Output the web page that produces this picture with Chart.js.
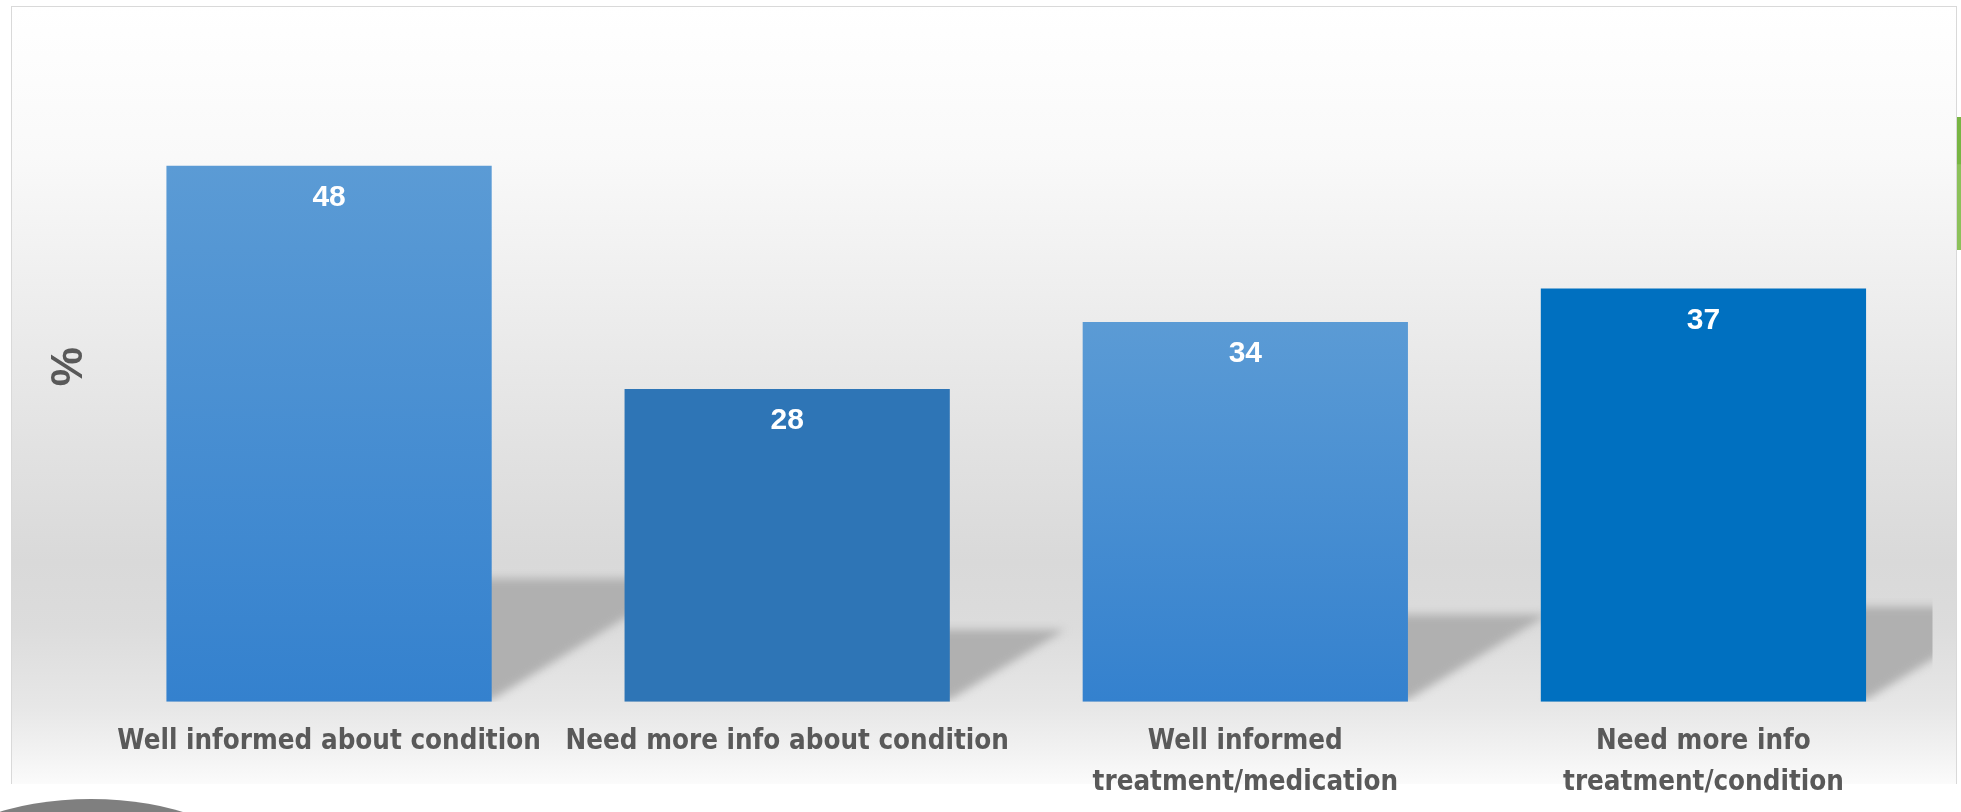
<!DOCTYPE html>
<html>
<head>
<meta charset="utf-8">
<script src="https://cdn.jsdelivr.net/npm/chart.js@4.4.1/dist/chart.umd.min.js"></script>
<style>
  html, body { margin:0; padding:0; background:#ffffff; overflow:hidden; }
  #wrap { position:relative; width:1961px; height:812px; }
  #frame { position:absolute; left:11px; top:6px; width:1944px; height:777px;
    border-left:1.5px solid #d9d9d9; border-top:1.5px solid #d9d9d9; border-right:1.5px solid #d9d9d9;
    background: linear-gradient(to bottom, #ffffff 0px, #f9f9f9 150px, #ededed 300px, #e1e1e1 450px, #d9d9d9 555px, #dcdcdc 620px, #e7e7e7 700px, #f2f2f2 745px, #fbfbfb 777px); }
  #blob { position:absolute; left:-59px; top:799px; width:300px; height:124px; border-radius:50%; background:#7f7f7f; }
  #green { position:absolute; left:1957px; top:117px; width:6px; height:133px; background:linear-gradient(to bottom,#78b543 0,#78b543 35%,#8cc15a 36%,#8cc15a 100%); }
  #cv { position:absolute; left:0; top:0; }
</style>
</head>
<body>
<div id="wrap">
  <div id="frame"></div>
  <div id="blob"></div>
  <div id="green"></div>
  <canvas id="cv" width="1961" height="812"></canvas>
</div>
<script>
// ---- data ----
const categories = [
  'Well informed about condition',
  'Need more info about condition',
  ['Well informed', 'treatment/medication'],
  ['Need more info', 'treatment/condition']
];
const values = [48, 28, 34, 37];
const axisTitle = '%';
const yMin = 0;
const yMax = 60;

// ---- styles ----
const topColors = ['#5b9bd5', '#2e75b6', '#5b9bd5', '#0070c0'];
const bottomColors = ['#3481ce', '#2e75b6', '#3481ce', '#0070c0'];

function fontAvailable(name) {
  const c = document.createElement('canvas').getContext('2d');
  const s = 'Well informed about condition mmmWWW';
  c.font = '40px monospace';
  const w1 = c.measureText(s).width;
  c.font = '40px "' + name + '", monospace';
  const w2 = c.measureText(s).width;
  return Math.abs(w1 - w2) > 0.5;
}
let labelFamily, labelSize;
if (fontAvailable('Liberation Sans Narrow')) {
  labelFamily = '"Liberation Sans Narrow", sans-serif'; labelSize = 32;
} else if (fontAvailable('DejaVu Sans Condensed')) {
  labelFamily = '"DejaVu Sans Condensed", sans-serif'; labelSize = 27.5;
} else {
  labelFamily = '"Liberation Sans", Arial, sans-serif'; labelSize = 26;
}

const shadowPlugin = {
  id: 'barShadow',
  beforeDatasetsDraw(chart) {
    const ctx = chart.ctx;
    const area = chart.chartArea;
    const meta = chart.getDatasetMeta(0);
    ctx.save();
    ctx.beginPath();
    ctx.rect(area.left, area.top, area.right - area.left, area.bottom - area.top);
    ctx.clip();
    ctx.filter = 'blur(4px)';
    ctx.fillStyle = '#b0b0b0';
    meta.data.forEach(bar => {
      const p = bar.getProps(['x', 'y', 'base', 'width'], true);
      const left = p.x - p.width / 2, right = p.x + p.width / 2;
      const h = 0.23 * (p.base - p.y);
      const dx = 1.6 * h;
      ctx.beginPath();
      ctx.moveTo(left + 4, p.base - 2);
      ctx.lineTo(right, p.base - 2);
      ctx.lineTo(right + dx, p.base - h);
      ctx.lineTo(left + dx, p.base - h);
      ctx.closePath();
      ctx.fill();
    });
    ctx.restore();
  }
};

const valueLabelPlugin = {
  id: 'valueLabels',
  afterDatasetsDraw(chart) {
    const ctx = chart.ctx;
    const meta = chart.getDatasetMeta(0);
    ctx.save();
    ctx.fillStyle = '#ffffff';
    ctx.font = 'bold 30px "Liberation Sans", Arial, sans-serif';
    ctx.textAlign = 'center';
    ctx.textBaseline = 'middle';
    meta.data.forEach((bar, i) => {
      const p = bar.getProps(['x', 'y'], true);
      ctx.fillText(String(values[i]), p.x, p.y + 32);
    });
    ctx.restore();
  }
};

const chart = new Chart(document.getElementById('cv'), {
  type: 'bar',
  data: {
    labels: categories,
    datasets: [{
      data: values,
      backgroundColor(context) {
        const c = context.chart;
        const i = context.dataIndex;
        if (!c.chartArea || context.raw === undefined) return topColors[i];
        const ys = c.scales.y;
        const top = ys.getPixelForValue(context.raw);
        const bottom = ys.getPixelForValue(0);
        const g = c.ctx.createLinearGradient(0, top, 0, bottom);
        g.addColorStop(0, topColors[i]);
        g.addColorStop(1, bottomColors[i]);
        return g;
      },
      borderWidth: 0,
      barPercentage: 0.71,
      categoryPercentage: 1.0
    }]
  },
  options: {
    responsive: false,
    animation: false,
    devicePixelRatio: 1,
    layout: { padding: { left: 20, right: 28.5, top: 31.6, bottom: 0 } },
    plugins: { legend: { display: false }, tooltip: { enabled: false } },
    scales: {
      x: {
        grid: { display: false, drawTicks: false, tickLength: 0 },
        border: { display: false },
        ticks: {
          color: '#595959',
          font: { family: labelFamily, size: labelSize, weight: 'bold', lineHeight: 41 / labelSize },
          padding: 20,
          maxRotation: 0, minRotation: 0, autoSkip: false
        },
        afterFit(scale) { scale.height = 110.2; }
      },
      y: {
        min: yMin, max: yMax,
        grid: { display: false, drawTicks: false, tickLength: 0 },
        border: { display: false },
        ticks: { display: false },
        title: {
          display: true, text: axisTitle, color: '#595959',
          font: { family: '"Liberation Sans", Arial, sans-serif', size: 44, weight: 'bold', lineHeight: 1.2 },
          padding: { top: 23.6, bottom: 3.6 }
        },
        afterFit(scale) { scale.width = 80; }
      }
    }
  },
  plugins: [shadowPlugin, valueLabelPlugin]
});
</script>
</body>
</html>
